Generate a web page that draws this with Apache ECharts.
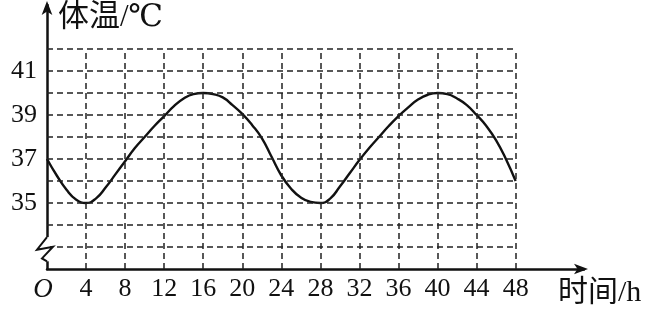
<!DOCTYPE html>
<html>
<head>
<meta charset="utf-8">
<script src="https://cdn.jsdelivr.net/npm/echarts@6/dist/echarts.min.js"></script>
<style>html,body{margin:0;padding:0;background:#fff}#c{width:658px;height:312px}</style>
</head>
<body>
<div id="c"></div>
<script>
// time (h) and body temperature (°C)
var hours = [0, 1, 2, 3, 4, 5, 6, 7, 8, 9, 10, 11, 12, 13, 14, 15, 16, 17, 18, 19, 20, 21, 22, 23, 24,
             25, 26, 27, 28, 29, 30, 31, 32, 33, 34, 35, 36, 37, 38, 39, 40, 41, 42, 43, 44, 45, 46, 47, 48];
var temps = [37, 36.25, 35.6, 35.15, 35, 35.2, 35.7, 36.3, 36.9, 37.5, 38, 38.5, 38.95, 39.4, 39.75, 39.95, 40,
             39.95, 39.8, 39.45, 39.05, 38.55, 37.95, 37.1, 36.25, 35.65, 35.25, 35.05, 35,
             35.2, 35.75, 36.35, 36.95, 37.5, 38, 38.5, 38.95, 39.35, 39.7, 39.92, 40,
             39.95, 39.75, 39.45, 39, 38.5, 37.85, 37, 36];
var xTickValues = [0, 4, 8, 12, 16, 20, 24, 28, 32, 36, 40, 44, 48];
var yLabelValues = [35, 37, 39, 41];
var gridYValues = [33, 34, 35, 36, 37, 38, 39, 40, 41, 42];
var gridXValues = [4, 8, 12, 16, 20, 24, 28, 32, 36, 40, 44, 48];
var xMaxData = 48, yMinAxis = 32, yTopGrid = 42;

(function () {
  var serif = '"Liberation Serif", "DejaVu Serif", "Noto Sans CJK SC", serif';
  var chart = echarts.init(document.getElementById('c'));

  var gridLines = [];
  gridYValues.forEach(function (y) {
    gridLines.push([{ coord: [0, y] }, { coord: [xMaxData, y] }]);
  });
  gridXValues.forEach(function (x) {
    gridLines.push([{ coord: [x, yMinAxis] }, { coord: [x, yTopGrid] }]);
  });

  chart.setOption({
    animation: false,
    backgroundColor: '#fff',
    grid: { left: 47, right: 74, top: 5, bottom: 43 },
    xAxis: {
      type: 'value', min: 0, max: 55, interval: 4,
      axisLine: { show: true, symbol: ['none', 'arrow'], symbolSize: [8, 14], symbolOffset: [0, 4], lineStyle: { color: '#111', width: 2.5 } },
      axisTick: { show: false },
      splitLine: { show: false },
      axisLabel: {
        margin: 7, color: '#111', fontFamily: serif, fontSize: 26, showMaxLabel: false,
        formatter: function (v) {
          if (v === 0) return '{o|O}';
          return xTickValues.indexOf(v) >= 0 ? String(v) : '';
        },
        rich: { o: { fontStyle: 'italic', fontFamily: serif, fontSize: 27, color: '#111', padding: [0, 8, 0, 0] } }
      }
    },
    yAxis: {
      type: 'value', min: yMinAxis, max: 44, interval: 1,
      axisLine: { show: true, symbol: ['none', 'arrow'], symbolSize: [8, 14], symbolOffset: [0, 4], lineStyle: { color: '#111', width: 2.5 } },
      axisTick: { show: false },
      splitLine: { show: false },
      axisLabel: {
        margin: 10, color: '#111', fontFamily: serif, fontSize: 26,
        formatter: function (v) { return yLabelValues.indexOf(v) >= 0 ? String(v) : ''; }
      }
    },
    series: [{
      type: 'line',
      data: hours.map(function (hh, i) { return [hh, temps[i]]; }),
      smooth: true,
      showSymbol: false,
      lineStyle: { color: '#111', width: 2.4 },
      z: 3,
      markLine: {
        silent: true, symbol: ['none', 'none'], animation: false,
        label: { show: false },
        lineStyle: { color: '#222', width: 1.5, type: [6, 4] },
        emphasis: { disabled: true },
        data: gridLines
      }
    }]
  });

  // axis break zigzag on the y axis, positioned through the axis scale
  var pa = chart.convertToPixel({ gridIndex: 0 }, [0, 33.45]);
  var pb = chart.convertToPixel({ gridIndex: 0 }, [0, 32.35]);
  var ax = pa[0], y0 = pa[1], hgt = pb[1] - pa[1];
  chart.setOption({
    graphic: [
      { type: 'rect', shape: { x: ax - 3, y: y0, width: 6, height: hgt }, style: { fill: '#fff' }, z: 100 },
      { type: 'polyline', z: 101,
        shape: { points: [[ax, y0], [ax - 10, y0 + hgt * 0.52], [ax + 6, y0 + hgt * 0.4], [ax - 5, y0 + hgt * 0.88], [ax, y0 + hgt]] },
        style: { stroke: '#111', lineWidth: 2, fill: null } },
      { type: 'text', left: 58, top: 2, z: 102,
        style: { text: '体温/℃', fontFamily: serif, fontSize: 31, fill: '#111' } },
      { type: 'text', left: 558, top: 278, z: 102,
        style: { text: '时间/h', fontFamily: serif, fontSize: 30, fill: '#111' } }
    ]
  });
})();
</script>
</body>
</html>
